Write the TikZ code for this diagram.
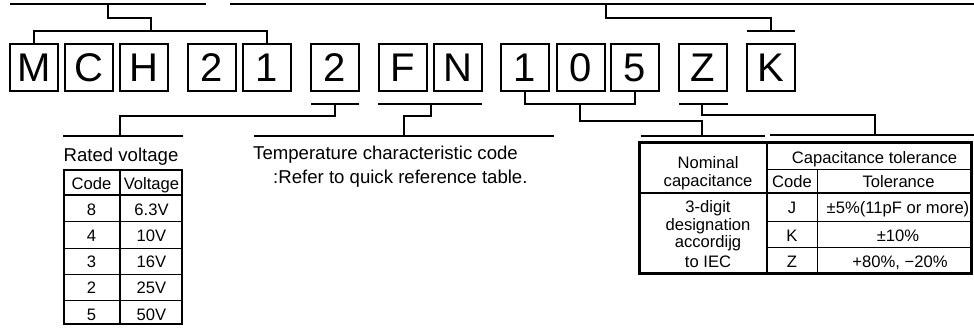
\documentclass[tikz,border=0pt]{standalone}
\usepackage{fontspec}
\setmainfont{Liberation Sans}
\begin{document}
\begin{tikzpicture}[x=1pt,y=-1pt,
  digit/.style={draw, line width=2pt, minimum width=48pt, minimum height=47pt,
    inner sep=0pt, font=\fontsize{40}{40}\selectfont, text height=28.6pt, text depth=0pt},
  link/.style={line width=2pt},
  lbl/.style={anchor=base, inner sep=0pt, font=\fontsize{18.6}{18.6}\selectfont},
  cell/.style={anchor=base, inner sep=0pt, font=\fontsize{16.6}{16.6}\selectfont},
  thick rule/.style={line width=2.5pt},
  thin rule/.style={line width=1pt}]
\useasboundingbox (0,0) rectangle (974,327);

% ---- code characters ----
\node[digit] (m)    at (34,67.5)    {M};
\node[digit] (c)    at (89,67.5)    {C};
\node[digit] (h)    at (144,67.5)   {H};
\node[digit] (s2)   at (212,67.5)   {2};
\node[digit] (s1)   at (267,67.5)   {1};
\node[digit] (v2)   at (334.5,67.5) {2};
\node[digit] (f)    at (402.5,67.5) {F};
\node[digit] (n)    at (457.5,67.5) {N};
\node[digit] (one)  at (524.5,67.5) {1};
\node[digit] (zero) at (580.5,67.5) {0};
\node[digit] (five) at (635,67.5)   {5};
\node[digit] (z)    at (703,67.5)   {Z};
\node[digit] (k)    at (770.5,67.5) {K};

% ---- upper brackets ----
\coordinate (topL1) at (10,3.5);   \coordinate (topL2) at (206,3.5);
\coordinate (topR1) at (230,3.5);  \coordinate (topR2) at (974,3.5);
\draw[link] (topL1) -- (topL2);
\draw[link] (topR1) -- (topR2);

\coordinate (tapA) at (108,3.5);
\coordinate (jA) at (151,31);
\draw[link] (tapA) |- (151,18) -- (jA);
\draw[link] (m.north) |- (jA) -| (s1.north);

\coordinate (tapB) at (606,3.5);
\coordinate (jB) at (771,31);
\coordinate (kbarL) at (747,31); \coordinate (kbarR) at (795,31);
\draw[link] (tapB) |- (771,18) -- (jB);
\draw[link] (kbarL) -- (kbarR);

% ---- lower brackets ----
% rated voltage
\coordinate (vbarL) at (311,104); \coordinate (vbarR) at (359,104);
\coordinate (vtap) at (335,104);
\coordinate (rvL) at (63,135.5); \coordinate (rvR) at (183,135.5);
\draw[link] (vbarL) -- (vbarR);
\draw[link] (vtap) |- (120,115.5) -- (120,135.5);
\draw[link] (rvL) -- (rvR);

% temperature characteristic
\coordinate (tbarL) at (378,104); \coordinate (tbarR) at (482,104);
\coordinate (ttap) at (430.5,104);
\coordinate (tcL) at (254,135.5); \coordinate (tcR) at (554,135.5);
\draw[link] (tbarL) -- (tbarR);
\draw[link] (ttap) |- (403.5,116) -- (403.5,135.5);
\draw[link] (tcL) -- (tcR);

% nominal capacitance
\coordinate (j105) at (580,104);
\coordinate (ncL) at (641,135.5); \coordinate (ncR) at (765,135.5);
\draw[link] (one.south) |- (j105) -| (five.south);
\draw[link] (j105) |- (702,120.5) -- (702,135.5);
\draw[link] (ncL) -- (ncR);

% capacitance tolerance
\coordinate (zbarL) at (679,104); \coordinate (zbarR) at (728,104);
\coordinate (ztap) at (702,104);
\coordinate (ctL) at (770,134.5); \coordinate (ctR) at (974,134.5);
\draw[link] (zbarL) -- (zbarR);
\draw[link] (ztap) |- (875,115) -- (875,134.5);
\draw[link] (ctL) -- (ctR);

% ---- labels ----
\node[lbl] (rated) at (121,161) {Rated voltage};
\node[lbl, anchor=base west] (temp1) at (253,159.3) {Temperature characteristic code};
\node[lbl, anchor=base west] (temp2) at (273,183) {:Refer to quick reference table.};

% ---- rated voltage table ----
\draw[line width=2.2pt] (63.8,170.3) rectangle (182,324.3);
\draw[line width=2pt] (120,170.3) -- (120,324.3);
\draw[line width=2pt] (63.8,195) -- (182,195);
\foreach \yy in {221.7,248.3,274.3,300.7}
  \draw[line width=1.2pt] (63.8,\yy) -- (182,\yy);
\node[cell] (vhc) at (91.5,189) {Code};
\node[cell] (vhv) at (151.5,189) {Voltage};
\foreach \cd/\vv/\yy [count=\i] in {8/6.3V/215,4/10V/241,3/16V/267.5,2/25V/293.5,5/50V/320}{
  \node[cell] (vc\i) at (91.5,\yy) {\cd};
  \node[cell] (vv\i) at (151.5,\yy) {\vv};
}

% ---- capacitance table ----
\draw[line width=2.6pt] (639.5,142.3) rectangle (971.5,273.3);
\draw[line width=1.5pt] (767,142.3) -- (767,273.3);
\draw[thin rule] (817,169) -- (817,273.3);
\draw[thin rule] (767,169) -- (971.5,169);
\draw[thick rule] (639.5,193) -- (971.5,193);
\draw[thin rule] (767,221) -- (971.5,221);
\draw[thin rule] (767,247.7) -- (971.5,247.7);

\node[cell] (nom1) at (708,168.3) {Nominal};
\node[cell] (nom2) at (708,186) {capacitance};
\node[cell] (cth)  at (874.5,163.3) {Capacitance tolerance};
\node[cell] (cthc) at (792,187) {Code};
\node[cell] (ctht) at (898.5,187) {Tolerance};

\node[cell] (d1) at (708,212.5) {3-digit};
\node[cell] (d2) at (708,230)   {designation};
\node[cell] (d3) at (708,247.5) {accordijg};
\node[cell] (d4) at (708,267.3) {to IEC};

\node[cell] (cj) at (792,213.3) {J};
\node[cell] (ck) at (792,241.5) {K};
\node[cell] (cz) at (792,267.3) {Z};
\node[cell] (tj) at (898,213.3) {±5\%(11pF or more)};
\node[cell] (tk) at (898,241.5) {±10\%};
\node[cell] (tz) at (900,267.3) {+80\%, −20\%};
\end{tikzpicture}
\end{document}
